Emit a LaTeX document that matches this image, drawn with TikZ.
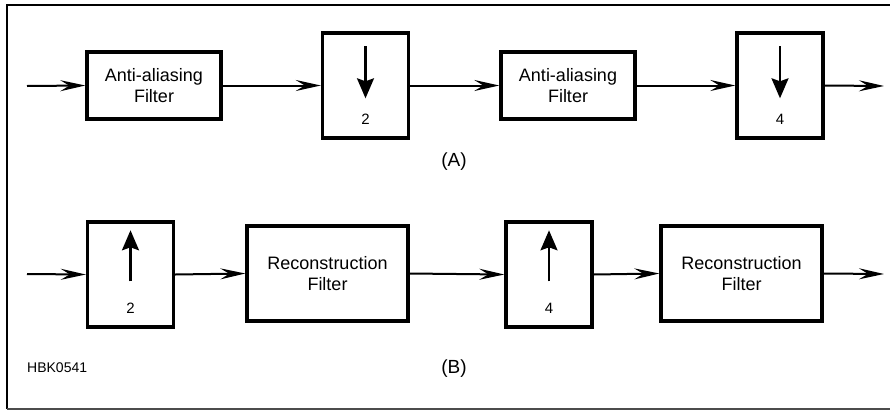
\documentclass[tikz,border=0pt]{standalone}
\usepackage{fontspec}
\setmainfont{Liberation Sans}
\usepackage{tikz}
\usetikzlibrary{arrows.meta, calc}

\begin{document}
\begin{tikzpicture}[x=1pt, y=-1pt,
	blk/.style={draw=black, line width=3.4pt, fill=white, align=center, inner sep=0pt,
		font=\fontsize{18}{21}\selectfont},
	filt/.style={blk, minimum width=134pt, minimum height=67pt},
	recon/.style={blk, minimum width=161pt, minimum height=95pt},
	rate/.style={blk, minimum width=86pt, minimum height=105pt},
	sig/.style={line width=2pt, -{Stealth[length=25pt, width=11pt, inset=9pt]}},
	updn/.style={line width=2.2pt, -{Stealth[length=20pt, width=17pt, inset=3pt]}},
	num/.style={font=\fontsize{15}{18}\selectfont},
	caption/.style={font=\fontsize{19}{22}\selectfont}]

	\useasboundingbox (0,0) rectangle (890,410);

	% frame
	\draw[line width=2.6pt] (892,5) -- (7,5) -- (7,409);
	\draw[line width=1.6pt, black!70] (7,409) -- (892,409);

	% (A) decimation
	\coordinate (inA) at (27,86);
	\coordinate (outA) at (884,86);
	\node[filt] (A1) at (154,85.5) {Anti-aliasing\\Filter};
	\node[rate] (A2) at (365.5,85.5) {};
	\node[filt] (A3) at (568,85.5) {Anti-aliasing\\Filter};
	\node[rate] (A4) at (780,85.5) {};

	\draw[sig] (inA) -- (A1.west);
	\draw[sig] (A1.east) -- (A2.west);
	\draw[sig] (A2.east) -- (A3.west);
	\draw[sig] (A3.east) -- (A4.west);
	\draw[sig] (A4.east) -- (outA);

	\draw[updn] ($ (A2.north)+(0,15) $) -- ($ (A2.north)+(0,67) $);
	\draw[updn] ($ (A4.north)+(0,15) $) -- ($ (A4.north)+(0,67) $);
	\node[num] (nA2) at ($ (A2.south)+(0,-20) $) {2};
	\node[num] (nA4) at ($ (A4.south)+(0,-20) $) {4};

	\node[caption] (capA) at (454,162) {(A)};

	% (B) interpolation
	\coordinate (inB) at (27,274);
	\coordinate (outB) at (884,274);
	\node[rate] (B1) at (130.5,274.5) {};
	\node[recon] (B2) at (327.5,273.5) {Reconstruction\\Filter};
	\node[rate] (B3) at (549,274.5) {};
	\node[recon] (B4) at (741.5,273.5) {Reconstruction\\Filter};

	\draw[sig] (inB) -- (B1.west);
	\draw[sig] (B1.east) -- (B2.west);
	\draw[sig] (B2.east) -- (B3.west);
	\draw[sig] (B3.east) -- (B4.west);
	\draw[sig] (B4.east) -- (outB);

	\draw[updn] ($ (B1.north)+(0,61) $) -- ($ (B1.north)+(0,10) $);
	\draw[updn] ($ (B3.north)+(0,61) $) -- ($ (B3.north)+(0,10) $);
	\node[num] (nB1) at ($ (B1.south)+(0,-20) $) {2};
	\node[num] (nB3) at ($ (B3.south)+(0,-20) $) {4};

	\node[caption] (capB) at (454,369) {(B)};
	\node[font=\fontsize{14}{17}\selectfont, anchor=west, inner sep=0pt] (tag) at (27,368) {HBK0541};

\end{tikzpicture}
\end{document}
